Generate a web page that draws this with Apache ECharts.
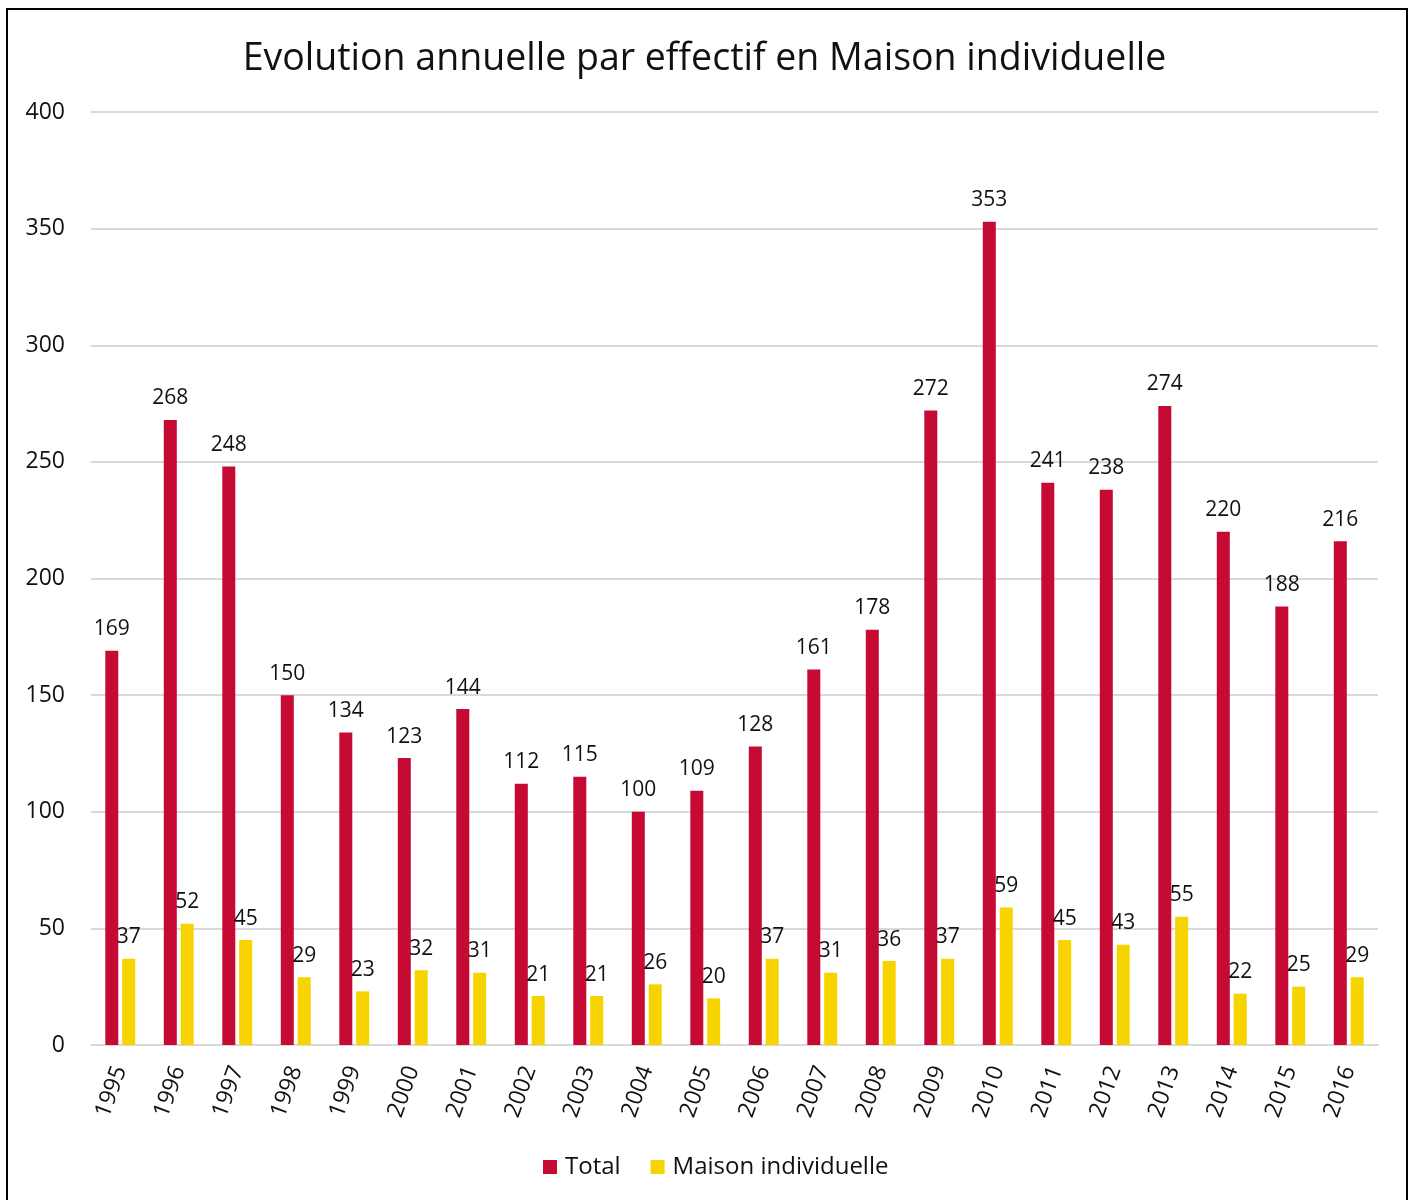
<!DOCTYPE html>
<html>
<head>
<meta charset="utf-8">
<style>
html,body{margin:0;padding:0;background:#fff;}
#c{width:1409px;height:1200px;}
</style>
<script src="https://cdn.jsdelivr.net/npm/echarts@6/dist/echarts.min.js"></script>
</head>
<body>
<div id="c"></div>
<script>
const titleText = 'Evolution annuelle par effectif en Maison individuelle';
const years = ['1995','1996','1997','1998','1999','2000','2001','2002','2003','2004','2005','2006','2007','2008','2009','2010','2011','2012','2013','2014','2015','2016'];
const totalValues = [169,268,248,150,134,123,144,112,115,100,109,128,161,178,272,353,241,238,274,220,188,216];
const maisonValues = [37,52,45,29,23,32,31,21,21,26,20,37,31,36,37,59,45,43,55,22,25,29];
const seriesNames = ['Total','Maison individuelle'];

const FONT = '"Open Sans", "Noto Sans", sans-serif';
const chart = echarts.init(document.getElementById('c'), null, {renderer:'canvas'});
const labelStyle = {show:true, position:'top', distance:11, color:'#111', fontSize:21, fontFamily:FONT};
chart.setOption({
  backgroundColor:'#fff',
  animation:false,
  title:{text:titleText, left:'center', top:35, textStyle:{fontFamily:FONT, fontSize:37.5, fontWeight:'normal', color:'#111'}},
  legend:{data:seriesNames, bottom:16, left:538, itemWidth:14, itemHeight:14, itemGap:30, icon:'rect',
    textStyle:{fontFamily:FONT, fontSize:24, color:'#111', padding:[0,0,0,3]}},
  grid:{left:91, right:31, top:112, bottom:155, containLabel:false},
  xAxis:{type:'category', data:years,
    axisLine:{lineStyle:{color:'#d9d9d9', width:2}},
    axisTick:{show:false},
    axisLabel:{rotate:70, fontFamily:FONT, fontSize:23, color:'#111', margin:22, interval:0}},
  yAxis:{type:'value', min:0, max:400, interval:50,
    axisLine:{show:false}, axisTick:{show:false},
    splitLine:{lineStyle:{color:'#d9d9d9', width:2}},
    axisLabel:{fontFamily:FONT, fontSize:23, color:'#111', margin:26}},
  series:[
    {name:seriesNames[0], type:'bar', data:totalValues, barWidth:13, barGap:'30%', itemStyle:{color:'#C50A34'}, label:labelStyle},
    {name:seriesNames[1], type:'bar', data:maisonValues, barWidth:13, itemStyle:{color:'#F7D300'}, label:labelStyle}
  ],
  graphic:[{type:'rect', silent:true, z:100, shape:{x:7, y:9, width:1400, height:1300}, style:{fill:'none', stroke:'#000', lineWidth:2}}]
});
</script>
</body>
</html>
